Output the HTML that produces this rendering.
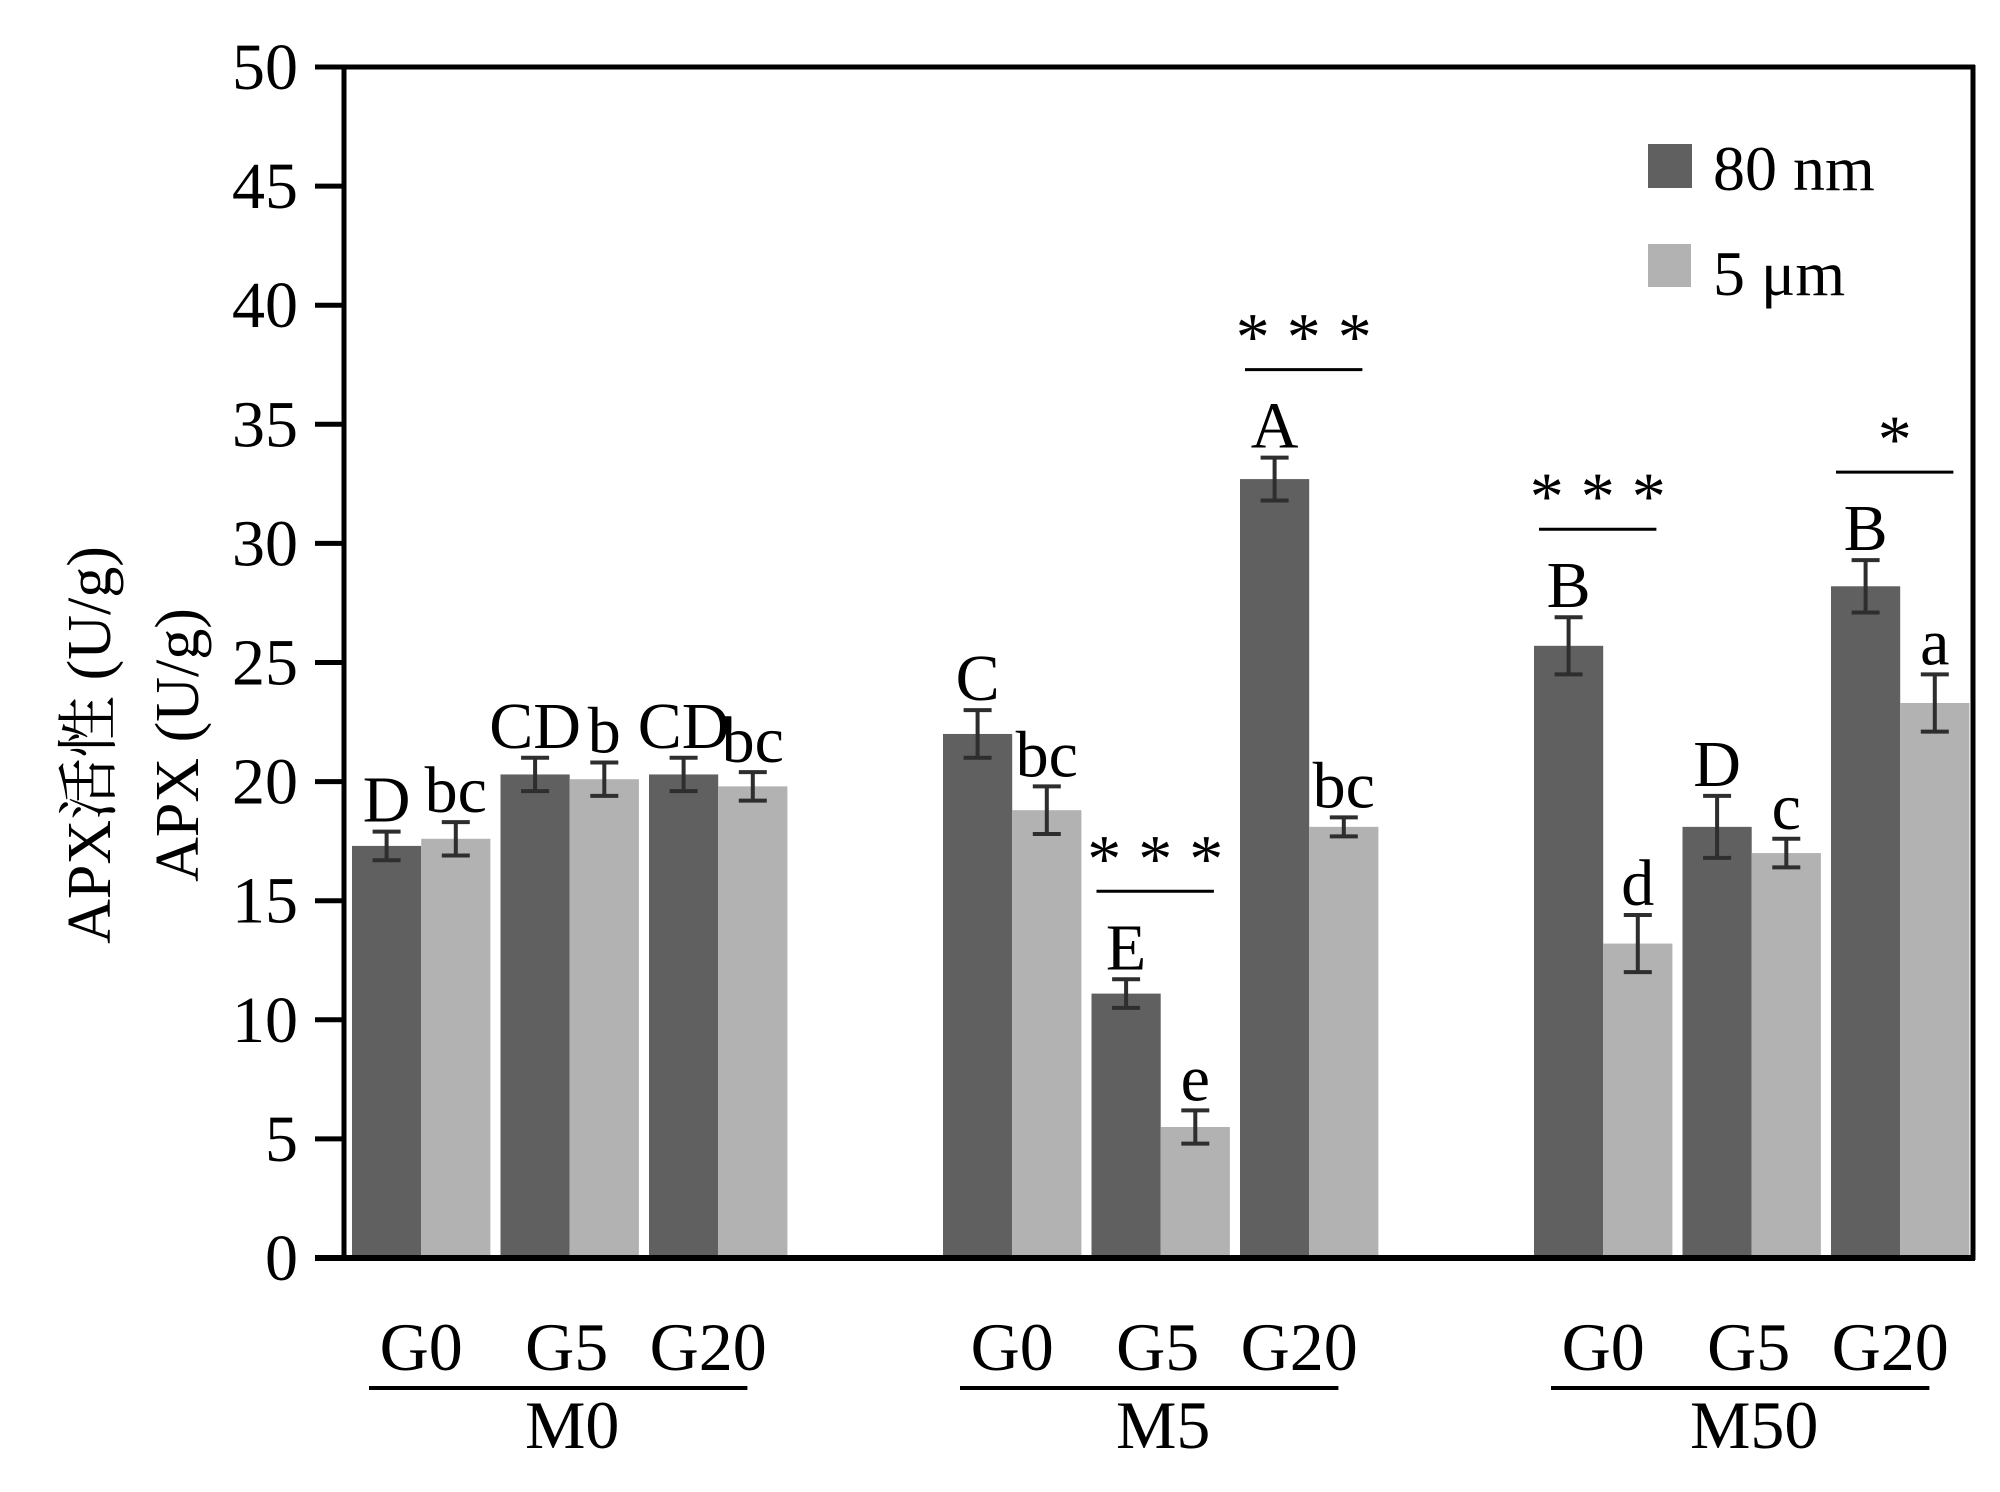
<!DOCTYPE html>
<html><head><meta charset="utf-8"><style>
html,body{margin:0;padding:0;background:#fff;}
svg{display:block;font-family:"Liberation Serif","Noto Serif CJK SC",serif;}
</style></head><body>
<svg id="chart" width="2000" height="1492" viewBox="0 0 2000 1492" xmlns="http://www.w3.org/2000/svg">
<g id="yaxis-title">
<text transform="translate(110,745) rotate(-90)" text-anchor="middle" font-size="62">APX活性 (U/g)</text>
<text transform="translate(198,745) rotate(-90)" text-anchor="middle" font-size="62">APX (U/g)</text>
</g>
<g id="bars"></g>
<g id="axes"></g>
<g id="legend">
<rect x="1648" y="144" width="44" height="44" fill="#606060"/>
<text x="1713" y="190" font-size="64">80 nm</text>
<rect x="1648" y="244" width="43" height="43" fill="#b2b2b2"/>
<text x="1713" y="295" font-size="64">5 μm</text>
</g>
</svg>
<script>
const clusters = ["M0","M5","M50"];
const subgroups = ["G0","G5","G20"];
const nmValues = [17.3,20.3,20.3, 22.0,11.1,32.7, 25.7,18.1,28.2];
const nmErrors = [0.6,0.7,0.7, 1.0,0.6,0.9, 1.2,1.3,1.1];
const umValues = [17.6,20.1,19.8, 18.8,5.5,18.1, 13.2,17.0,23.3];
const umErrors = [0.7,0.7,0.6, 1.0,0.7,0.4, 1.2,0.6,1.2];
const nmLetters = ["D","CD","CD","C","E","A","B","D","B"];
const umLetters = ["bc","b","bc","bc","e","bc","d","c","a"];
const sigIndex = [4,5,6,8];
const sigLabels = ["* * *","* * *","* * *","*"];
const yTicks = [0,5,10,15,20,25,30,35,40,45,50];

const NS="http://www.w3.org/2000/svg";
const barsG=document.getElementById('bars');
const axesG=document.getElementById('axes');
const Y0=1258, Y50=67, XL=344, XR=1973;
function y(v){return Y0-(v/50)*(Y0-Y50);}
const BW=69.2;
function xPair(i){const c=Math.floor(i/3), s=i%3; return 352+c*591+s*148.5;}
function mk(tag,attrs,parent){const e=document.createElementNS(NS,tag);for(const k in attrs)e.setAttribute(k,attrs[k]);parent.appendChild(e);return e;}

function drawBar(x,v,err,color,letter,nameBase,g){
  const r=mk('rect',{x:x,y:y(v),width:BW,height:Y0-y(v),fill:color},g);
  
  
  const cx=x+BW/2;
  const eg=mk('g',{stroke:'#2e2e2e','stroke-width':4},g);
  
  
  mk('line',{x1:cx,x2:cx,y1:y(v+err),y2:y(v-err)},eg);
  mk('line',{x1:cx-14,x2:cx+14,y1:y(v+err),y2:y(v+err)},eg);
  mk('line',{x1:cx-14,x2:cx+14,y1:y(v-err),y2:y(v-err)},eg);
  const t=mk('text',{x:cx,y:y(v+err)-10,'text-anchor':'middle','font-size':66},g);
  
  
  t.textContent=letter;
}
for(let i=0;i<nmValues.length;i++){
  const x=xPair(i);
  const nm=clusters[Math.floor(i/3)].toLowerCase()+'-'+subgroups[i%3].toLowerCase();
  drawBar(x,nmValues[i],nmErrors[i],'#606060',nmLetters[i],nm+'-80nm',barsG);
  drawBar(x+BW,umValues[i],umErrors[i],'#b2b2b2',umLetters[i],nm+'-5um',barsG);
}
sigIndex.forEach((idx,k)=>{
  const x=xPair(idx);
  const top=Math.max(nmValues[idx]+nmErrors[idx],umValues[idx]+umErrors[idx]);
  const ly=y(top)-88;
  const g=mk('g',{},barsG);
  
  
  const lx1=x+5, lx2=x+2*BW-16;
  mk('line',{x1:lx1,x2:lx2,y1:ly,y2:ly,stroke:'#000','stroke-width':3},g);
  const t=mk('text',{x:(lx1+lx2)/2,y:ly-10,'text-anchor':'middle','font-size':68},g);
  t.textContent=sigLabels[k];
});
mk('line',{x1:XL,x2:XL,y1:Y50-2,y2:Y0+2,stroke:'#000','stroke-width':5},axesG);
mk('line',{x1:XR,x2:XR,y1:Y50-2,y2:Y0+2,stroke:'#000','stroke-width':5},axesG);
mk('line',{x1:315,x2:XR+2,y1:Y50,y2:Y50,stroke:'#000','stroke-width':5},axesG);
mk('line',{x1:315,x2:XR+2,y1:Y0,y2:Y0,stroke:'#000','stroke-width':6},axesG);
yTicks.forEach(v=>{
  const l=mk('line',{x1:315,x2:XL,y1:y(v),y2:y(v),stroke:'#000','stroke-width':5},axesG);
  
  
  const t=mk('text',{x:298,y:y(v)+22,'text-anchor':'end','font-size':66},axesG);
  
  
  t.textContent=v;
});
const labOff=[0,-3,-10];
clusters.forEach((c,ci)=>{
  subgroups.forEach((s,si)=>{
    const cx=xPair(ci*3+si)+BW;
    const t=mk('text',{x:cx+labOff[si],y:1370,'text-anchor':'middle','font-size':68},axesG);
    
    
    t.textContent=s;
  });
  const x0=xPair(ci*3)+17, x1=xPair(ci*3+2)+2*BW-40;
  const l=mk('line',{x1:x0,x2:x1,y1:1388,y2:1388,stroke:'#000','stroke-width':4},axesG);
  
  
  const t=mk('text',{x:(x0+x1)/2+14,y:1448,'text-anchor':'middle','font-size':68},axesG);
  
  
  t.textContent=c;
});
</script>
</body></html>
